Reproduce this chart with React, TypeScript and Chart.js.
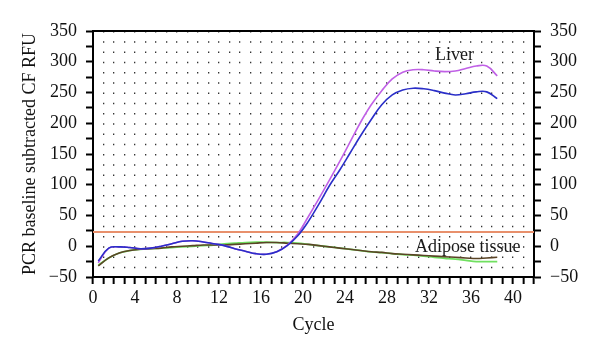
import React, { useEffect, useRef } from "react";
import { Chart, registerables } from "chart.js";

Chart.register(...registerables);

// ---- data ----
const cycles = [
  0.5, 1.5, 2.5, 3.5, 4.5, 5.5, 6.5, 7.5, 8.5, 9.5, 10.5, 11.5, 12.5, 13.5,
  14.5, 15.5, 16.5, 17.5, 18.5, 19.5, 20.5, 21.5, 22.5, 23.5, 24.5, 25.5,
  26.5, 27.5, 28.5, 29.5, 30.5, 31.5, 32.5, 33.5, 34.5, 35.5, 36.5, 37.5, 38.5,
];

const liverMagenta = [
  -27, -3, -1, -2, -4, -3, 0, 4, 8, 9, 7, 4, 1, -4, -8, -12, -13, -9, 2, 20,
  48, 77, 107, 138, 170, 202, 230, 253, 272, 283, 287, 287, 285, 284, 285, 289,
  293, 293, 277,
];

const liverBlue = [
  -24, -3, -1, -2, -4, -3, 0, 4, 8, 9, 7, 4, 1, -4, -8, -12, -13, -9, 1, 17,
  40, 68, 98, 124, 152, 180, 206, 230, 246, 254, 257, 256, 253, 249, 246, 248,
  251, 251, 240,
];

const adiposeGreen = [
  -31, -19, -11, -7, -5, -4, -3, -2, -1, 0, 1, 2, 4, 5, 6, 6.5, 6.5, 6, 6, 5, 3,
  1, -1, -3, -5, -7, -9, -10.5, -12, -13.5, -14.5, -16, -18, -19.5, -21, -23,
  -25, -25, -25,
];

const adiposeDark = [
  -32, -19, -11, -7, -5, -4, -3, -1, 0, 1, 2, 2, 2, 3, 4, 5, 6, 6, 5, 4, 3, 1,
  -1, -3, -5, -7, -9, -10, -12, -13, -14, -15, -16, -17, -18, -19, -20, -19, -18,
];

const thresholdValue = 23;
const thresholdSpan = [0, 42];

const xLabelledTicks = [0, 4, 8, 12, 16, 20, 24, 28, 32, 36, 40];
const yLabelledTicks = [-50, 0, 50, 100, 150, 200, 250, 300, 350];

const annotations = [
  { text: "Liver", x: 32.57, y: 302.7 },
  { text: "Adipose tissue", x: 30.67, y: -9.7 },
];

const FONT = '"Liberation Serif", "Times New Roman", serif';

const toPoints = (vals: number[]) => cycles.map((c, i) => ({ x: c, y: vals[i] }));

const yLabel = (v: number) => {
  if (!yLabelledTicks.includes(v)) return "";
  return v < 0 ? "\u2212" + Math.abs(v) : String(v);
};

const labelPlugin = {
  id: "textLabels",
  afterDatasetsDraw(chart: any) {
    const { ctx, scales } = chart;
    const xs = scales.x;
    const ys = scales.y;
    ctx.save();
    ctx.font = `18px ${FONT}`;
    ctx.fillStyle = "#1a1a1a";
    ctx.textAlign = "left";
    ctx.textBaseline = "alphabetic";
    for (const a of annotations) {
      ctx.fillText(a.text, xs.getPixelForValue(a.x), ys.getPixelForValue(a.y));
    }
    ctx.restore();
  },
};

export default function App() {
  const ref = useRef<HTMLCanvasElement | null>(null);

  useEffect(() => {
    document.body.style.margin = "0";
    if (!ref.current) return;
    const yScaleBase = (position: string, width: number) => ({
      type: "linear",
      position,
      min: -50,
      max: 350,
      afterFit: (s: any) => {
        s.width = width;
      },
      ticks: {
        stepSize: 25,
        autoSkip: false,
        padding: 9,
        color: "#111",
        font: { family: FONT, size: 18 },
        callback: (v: any) => yLabel(Number(v)),
      },
      grid: {
        drawOnChartArea: false,
        drawTicks: true,
        tickLength: 7,
        tickWidth: 2,
        tickColor: "#000",
      },
      border: { display: true, color: "#000", width: 2 },
    });

    const chart = new Chart(ref.current, {
      type: "line",
      data: {
        datasets: [
          {
            label: "Liver 2",
            data: toPoints(liverBlue),
            borderColor: "#2a2ec8",
            borderWidth: 1.6,
            pointRadius: 0,
            tension: 0.4,
            fill: false,
          },
          {
            label: "Liver 1",
            data: toPoints(liverMagenta),
            borderColor: "#c060e6",
            borderWidth: 1.6,
            pointRadius: 0,
            tension: 0.4,
            fill: false,
          },
          {
            label: "Adipose 2",
            data: toPoints(adiposeDark),
            borderColor: "#5a4426",
            borderWidth: 1.6,
            pointRadius: 0,
            tension: 0.4,
            fill: false,
          },
          {
            label: "Adipose 1",
            data: toPoints(adiposeGreen),
            borderColor: "#70e060",
            borderWidth: 1.8,
            pointRadius: 0,
            tension: 0.4,
            fill: false,
          },
          {
            label: "Threshold",
            data: thresholdSpan.map((x) => ({ x, y: thresholdValue })),
            borderColor: "#e8906c",
            borderWidth: 2,
            pointRadius: 0,
            fill: false,
          },
        ],
      },
      options: {
        animation: false,
        responsive: true,
        maintainAspectRatio: false,
        layout: { padding: 0 },
        plugins: {
          legend: { display: false },
          tooltip: { enabled: false },
        },
        scales: {
          x: {
            type: "linear",
            position: "bottom",
            min: 0,
            max: 42,
            afterFit: (s: any) => {
              s.height = 80;
            },
            ticks: {
              stepSize: 1,
              autoSkip: false,
              maxRotation: 0,
              padding: 3,
              color: "#111",
              font: { family: FONT, size: 18 },
              callback: (v: any) =>
                xLabelledTicks.includes(Number(v)) ? String(v) : "",
            },
            grid: {
              drawOnChartArea: true,
              color: "#333",
              lineWidth: 1.3,
              drawTicks: true,
              tickLength: 7,
              tickWidth: 2,
              tickColor: "#000",
            },
            border: { display: true, color: "#000", width: 2, dash: [1.5, 8.75] },
            title: {
              display: true,
              text: "Cycle",
              color: "#111",
              font: { family: FONT, size: 18 },
              padding: { top: 0, bottom: 21 },
            },
          },
          xTop: {
            type: "linear",
            position: "top",
            min: 0,
            max: 42,
            afterFit: (s: any) => {
              s.height = 31;
            },
            ticks: { display: false },
            grid: { drawOnChartArea: false, drawTicks: false },
            border: { display: true, color: "#000", width: 2 },
          },
          y: {
            ...(yScaleBase("left", 93) as any),
            title: {
              display: true,
              text: "PCR baseline subtracted CF RFU",
              color: "#111",
              font: { family: FONT, size: 18 },
              padding: { top: 19, bottom: 0 },
            },
          },
          yRight: yScaleBase("right", 66) as any,
        },
      } as any,
      plugins: [labelPlugin],
    });
    return () => chart.destroy();
  }, []);

  return (
    <div style={{ position: "relative", width: 600, height: 357 }}>
      <canvas ref={ref} />
    </div>
  );
}
